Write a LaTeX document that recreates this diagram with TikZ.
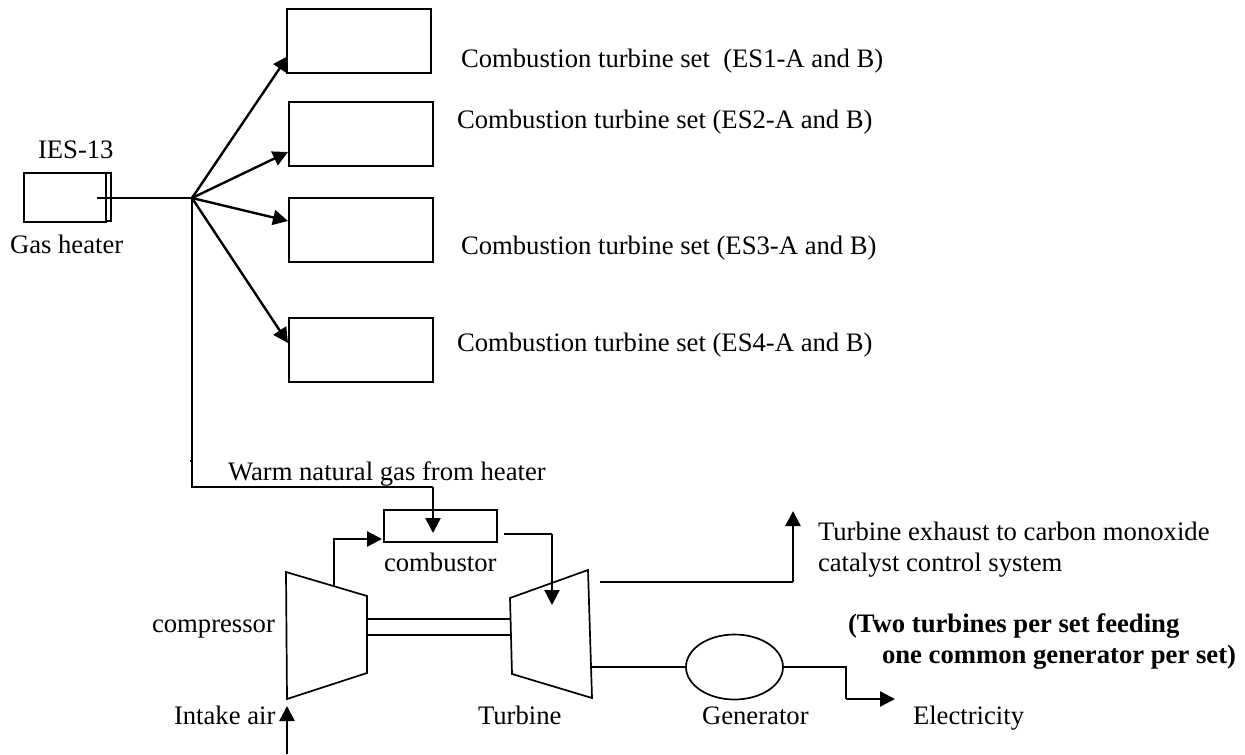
\documentclass[tikz,border=0pt]{standalone}
\usepackage{fontspec}
\setmainfont{Liberation Serif}
\usetikzlibrary{arrows.meta,shapes.geometric}
\tikzset{
  x=1pt,y=-1pt,
  line/.style={draw=black,line width=1.7pt},
  thick line/.style={draw=black,line width=2.4pt,-{Triangle[length=15pt,width=15pt]}},
  thin line/.style={draw=black,line width=1.5pt},
  box/.style={draw=black,line width=1.8pt,fill=white,minimum width=144pt,minimum height=64pt,inner sep=0pt,outer sep=0pt},
  lbl/.style={inner sep=0pt,outer sep=0pt,font=\fontsize{26.67}{30}\selectfont,anchor=base west,align=left},
  bold lbl/.style={lbl,font=\fontsize{26.67}{30}\selectfont\bfseries},
}
\begin{document}
\begin{tikzpicture}
\useasboundingbox (0,0) rectangle (1245,755);
% gas heater
\node[draw=black,line width=1.5pt,minimum width=81pt,minimum height=48pt,inner sep=0pt,outer sep=0pt,anchor=north west] (heaterback) at (30,173) {};
\node[draw=black,line width=1.7pt,fill=white,minimum width=82pt,minimum height=49pt,inner sep=0pt,outer sep=0pt,anchor=north west] (heater) at (24,173) {};
\coordinate (heaterin) at (97,198);
\coordinate (hub) at (192,198);
\draw[thin line] (heaterin) -- (hub);
\node[lbl] (lies) at (38,158) {IES-13};
\node[lbl] (lgas) at (10,253) {Gas heater};
% set boxes
\node[box,anchor=north west] (es1) at (287,9) {};
\node[box,anchor=north west] (es2) at (289,102) {};
\node[box,anchor=north west] (es3) at (289,198) {};
\node[box,anchor=north west] (es4) at (289,318) {};
\coordinate (t1) at (288,56);
\coordinate (t2) at (288,152);
\coordinate (t3) at (288,221);
\coordinate (t4) at (288,343);
\foreach \t in {t1,t2,t3,t4}{\draw[thick line] (hub) -- (\t);}
\node[lbl] (l1) at (461,67) {Combustion turbine set\ \ (ES1-A and B)};
\node[lbl] (l2) at (457,128) {Combustion turbine set (ES2-A and B)};
\node[lbl] (l3) at (461,254) {Combustion turbine set (ES3-A and B)};
\node[lbl] (l4) at (457,351) {Combustion turbine set (ES4-A and B)};
% gas supply
\coordinate (corner) at (192,487);
\coordinate (tick) at (190,461);
\coordinate (tickend) at (192,461);
\node[draw=black,line width=1.7pt,minimum width=113pt,minimum height=32pt,inner sep=0pt,outer sep=0pt,anchor=north west] (comb) at (384,510) {};
\coordinate (gasbend) at (433,487);
\coordinate (gastip) at (433,533);
\draw[line] (hub) -- (corner) -- (gasbend);
\draw[line] (tick) -- (tickend);
\draw[thick line] (gasbend) -- (gastip);
\node[lbl] (lwarm) at (228,480) {Warm natural gas from heater};
\node[lbl] (lcomb) at (384,571) {combustor};
% compressor
\coordinate (c1) at (286,572);
\coordinate (c2) at (367,596);
\coordinate (c3) at (367,673);
\coordinate (c4) at (287,699);
\draw[line] (c1) -- (c2) -- (c3) -- (c4) -- cycle;
\coordinate (cout) at (334,586);
\coordinate (cin) at (382,539);
\draw[thick line] (cout) |- (cin);
% turbine
\coordinate (d1) at (510,598);
\coordinate (d2) at (588,570);
\coordinate (d3) at (592,698);
\coordinate (d4) at (512,674);
\draw[line] (d1) -- (d2) -- (d3) -- (d4) -- cycle;
% shaft
\coordinate (sa1) at (367,619);
\coordinate (sb1) at (511,619);
\coordinate (sa2) at (367,635);
\coordinate (sb2) at (511,635);
\draw[thin line] (sa1) -- (sb1);
\draw[thin line] (sa2) -- (sb2);
% combustor exit
\coordinate (ex0) at (504,534);
\coordinate (exc) at (552,534);
\coordinate (ext) at (552,605);
\draw[line] (ex0) -- (exc);
\draw[thick line] (exc) -- (ext);
% exhaust
\coordinate (ox0) at (600,582);
\coordinate (oxc) at (793,582);
\coordinate (oxt) at (793,511);
\draw[line] (ox0) -- (oxc);
\draw[thick line] (oxc) -- (oxt);
\node[lbl] (lex1) at (818,540) {Turbine exhaust to carbon monoxide};
\node[lbl] (lex2) at (818,571) {catalyst control system};
% generator
\node[draw=black,line width=1.7pt,ellipse,minimum width=97pt,minimum height=65pt,inner sep=0pt,outer sep=0pt] (gen) at (734.5,667) {};
\coordinate (shaft) at (591,667);
\draw[line] (shaft) -- (gen.west);
\coordinate (gc) at (846,667);
\coordinate (gd) at (846,699);
\coordinate (gt) at (895,699);
\draw[line] (gen.east) -- (gc) -- (gd);
\draw[thick line] (gd) -- (gt);
\node[lbl] (lelec) at (913,724) {Electricity};
\node[lbl] (lgen) at (702,724) {Generator};
\node[lbl] (lturb) at (478,724) {Turbine};
\node[lbl] (lcompr) at (152,632) {compressor};
\node[lbl] (lair) at (174,724) {Intake air};
\coordinate (air0) at (287,754);
\coordinate (air1) at (287,706);
\draw[thick line] (air0) -- (air1);
\node[bold lbl] (lb1) at (848,632) {(Two turbines per set feeding};
\node[bold lbl] (lb2) at (882,663) {one common generator per set)};
\end{tikzpicture}
\end{document}
